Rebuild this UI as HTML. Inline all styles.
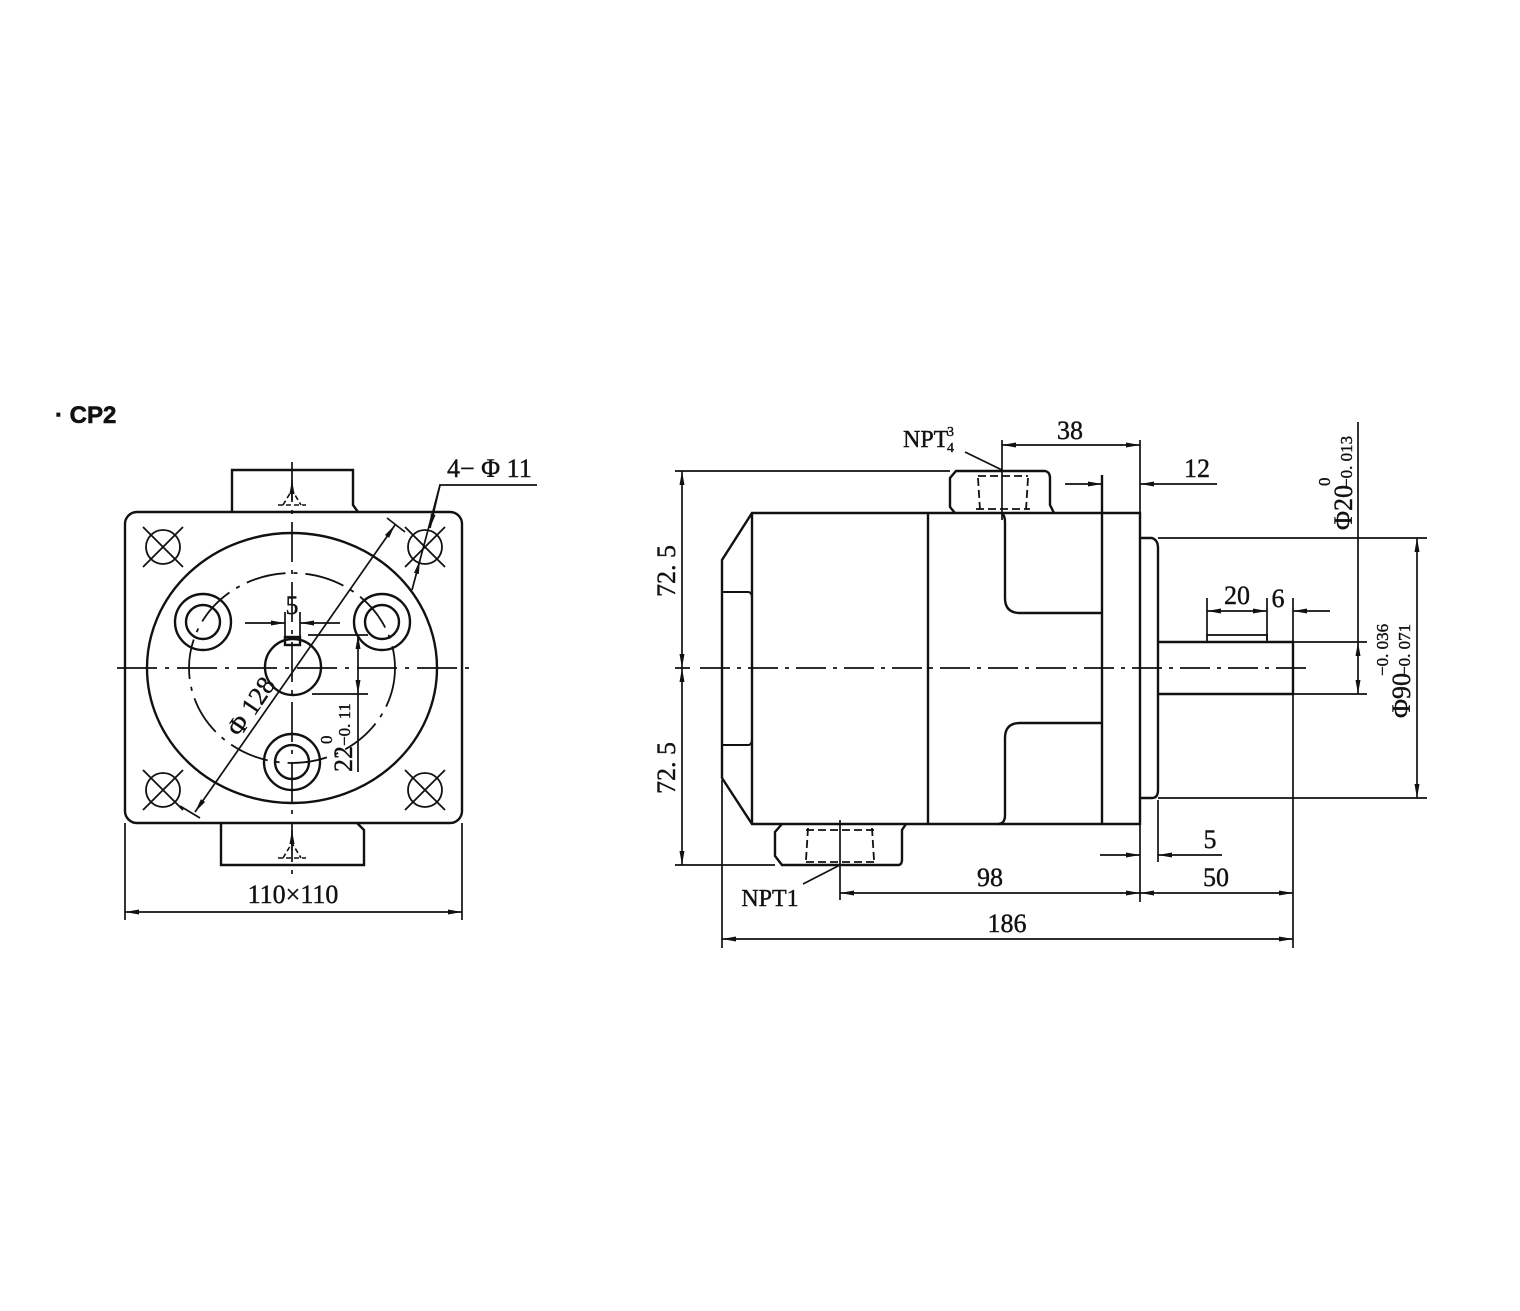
<!DOCTYPE html>
<html><head><meta charset="utf-8"><style>
html,body{margin:0;padding:0;background:#fff;}
svg{display:block}
text{font-family:"Liberation Serif","Noto Serif CJK SC",serif;fill:#111;stroke:#111;stroke-width:0.4px;}
</style></head><body>
<svg width="1520" height="1311" viewBox="0 0 1520 1311" xmlns="http://www.w3.org/2000/svg">
<defs>
<marker id="a" viewBox="0 0 14 6" refX="14" refY="3" markerWidth="14" markerHeight="6" markerUnits="userSpaceOnUse" orient="auto-start-reverse">
<path d="M0,0.5 L14,3 L0,5.5 Z" fill="#111"/></marker>
</defs>
<text x="55" y="423" style="font-family:'Liberation Sans',sans-serif;font-weight:bold;font-size:24px;stroke-width:0.6px">· CP2</text>

<g stroke="#111" stroke-width="2.4" fill="none">
<!-- LEFT VIEW -->
<path d="M232,512 L232,470 L353,470 L353,505 L358,512"/>
<path d="M221,823 L221,865 L364,865 L364,830 L357,823"/>
<rect x="125" y="512" width="337" height="311" rx="12"/>
<ellipse cx="292" cy="668" rx="145" ry="135"/>
<ellipse cx="292" cy="668" rx="103" ry="95" stroke-width="1.8" stroke-dasharray="40,8,4,8"/>
<circle cx="203" cy="622" r="28"/><circle cx="203" cy="622" r="17"/>
<circle cx="382" cy="622" r="28"/><circle cx="382" cy="622" r="17"/>
<circle cx="292" cy="762" r="28"/><circle cx="292" cy="762" r="17"/>
<circle cx="293" cy="667" r="28"/>
<rect x="285" y="637" width="15" height="8"/>
<g stroke-width="1.8">
<circle cx="163" cy="547" r="17"/><circle cx="425" cy="547" r="17"/>
<circle cx="163" cy="790" r="17"/><circle cx="425" cy="790" r="17"/>
<path d="M143,527 L183,567 M143,567 L183,527 M405,527 L445,567 M405,567 L445,527 M143,770 L183,810 M143,810 L183,770 M405,770 L445,810 M405,810 L445,770"/>
</g>
<g stroke-width="1.7" stroke-dasharray="40,8,4,8">
<line x1="117" y1="668" x2="470" y2="668"/>
<line x1="292" y1="462" x2="292" y2="880"/>
</g>
<path d="M283,505 L292,490 L301,505 M278,505 L306,505" stroke-width="1.6" stroke-dasharray="5,3"/>
<path d="M283,858 L292,843 L301,858 M278,858 L306,858" stroke-width="1.6" stroke-dasharray="5,3"/>
<line x1="292" y1="480" x2="292" y2="500" stroke-width="1.6" marker-start="url(#a)"/>
<line x1="292" y1="830" x2="292" y2="850" stroke-width="1.6" marker-start="url(#a)"/>
<line x1="395" y1="525" x2="195" y2="812" stroke-width="1.7" marker-start="url(#a)" marker-end="url(#a)"/>
<line x1="387" y1="518" x2="405" y2="532" stroke-width="1.7"/>
<line x1="180" y1="806" x2="200" y2="818" stroke-width="1.7"/>
<path d="M537,485 L440,485 L412,590" stroke-width="1.7"/>
<line x1="440" y1="485" x2="430" y2="528" stroke-width="1.7" marker-end="url(#a)"/>
<line x1="416" y1="575" x2="420" y2="560" stroke-width="1.7" marker-end="url(#a)"/>
<path d="M285,612 L285,640 M300,612 L300,640" stroke-width="1.7"/>
<line x1="245" y1="623" x2="285" y2="623" stroke-width="1.7" marker-end="url(#a)"/>
<line x1="340" y1="623" x2="300" y2="623" stroke-width="1.7" marker-end="url(#a)"/>
<path d="M308,635 L368,635 M312,694 L368,694" stroke-width="1.7"/>
<line x1="358" y1="772" x2="358" y2="694" stroke-width="1.7"/>
<line x1="358" y1="664" x2="358" y2="635" stroke-width="1.7" marker-end="url(#a)"/>
<line x1="358" y1="664" x2="358" y2="694" stroke-width="1.7" marker-end="url(#a)"/>
<path d="M125,823 L125,920 M462,823 L462,920" stroke-width="1.7"/>
<line x1="125" y1="912" x2="462" y2="912" stroke-width="1.7" marker-start="url(#a)" marker-end="url(#a)"/>

<!-- RIGHT VIEW -->
<path d="M752,513 L1140,513 L1140,824 L752,824 L722,778 L722,560 Z"/>
<line x1="752" y1="513" x2="752" y2="824"/>
<path d="M722,592 L748,592 Q752,592 752,598 M722,745 L748,745 Q752,745 752,739" stroke-width="2"/>
<line x1="928" y1="513" x2="928" y2="824"/>
<path d="M1002,513 Q1005,516 1005,522 L1005,598 Q1005,613 1020,613 L1102,613"/>
<path d="M1102,723 L1020,723 Q1005,723 1005,738 L1005,815 Q1005,824 998,824"/>
<line x1="1102" y1="475" x2="1102" y2="824"/>
<path d="M955,513 L950,507 L950,478 L956,471 L1045,471 Q1050,472 1050,478 L1050,505 L1054,513"/>
<path d="M978,478 L980,510 M1028,478 L1026,510 M978,476 L1028,476 M976,509 L1030,509" stroke-width="1.8" stroke-dasharray="8,4"/>
<path d="M782,824 L775,832 L775,856 L782,865 L899,865 Q902,864 902,860 L902,830 L906,824"/>
<path d="M808,828 L806,860 M872,828 L874,860 M806,830 L874,830 M806,862 L874,862" stroke-width="1.8" stroke-dasharray="8,4"/>
<path d="M1140,538 L1152,538 Q1158,540 1158,548 L1158,790 Q1158,798 1152,798 L1140,798"/>
<path d="M1158,642 L1293,642 L1293,694 L1158,694"/>
<rect x="1207" y="635" width="60" height="7" stroke-width="1.8"/>
<line x1="700" y1="668" x2="1310" y2="668" stroke-width="1.7" stroke-dasharray="30,7,4,7"/>
<line x1="1002" y1="440" x2="1002" y2="520" stroke-width="1.7"/>
<line x1="840" y1="820" x2="840" y2="900" stroke-width="1.7"/>
<path d="M675,471 L950,471 M675,865 L775,865 M675,668 L690,668" stroke-width="1.7"/>
<line x1="682" y1="568" x2="682" y2="471" stroke-width="1.7" marker-end="url(#a)"/>
<line x1="682" y1="568" x2="682" y2="668" stroke-width="1.7" marker-end="url(#a)"/>
<line x1="682" y1="766" x2="682" y2="668" stroke-width="1.7" marker-end="url(#a)"/>
<line x1="682" y1="766" x2="682" y2="865" stroke-width="1.7" marker-end="url(#a)"/>
<line x1="1140" y1="440" x2="1140" y2="513" stroke-width="1.7"/>
<line x1="1002" y1="445" x2="1140" y2="445" stroke-width="1.7" marker-start="url(#a)" marker-end="url(#a)"/>
<line x1="1065" y1="484" x2="1102" y2="484" stroke-width="1.7" marker-end="url(#a)"/>
<line x1="1217" y1="484" x2="1140" y2="484" stroke-width="1.7" marker-end="url(#a)"/>
<line x1="965" y1="452" x2="1002" y2="470" stroke-width="1.7"/>
<line x1="803" y1="884" x2="840" y2="865" stroke-width="1.7"/>
<path d="M1207,598 L1207,635 M1267,598 L1267,640 M1293,598 L1293,645" stroke-width="1.7"/>
<line x1="1237" y1="611" x2="1207" y2="611" stroke-width="1.7" marker-end="url(#a)"/>
<line x1="1237" y1="611" x2="1267" y2="611" stroke-width="1.7" marker-end="url(#a)"/>
<line x1="1330" y1="611" x2="1293" y2="611" stroke-width="1.7" marker-end="url(#a)"/>
<path d="M1293,642 L1367,642 M1293,694 L1367,694" stroke-width="1.7"/>
<line x1="1358" y1="422" x2="1358" y2="642" stroke-width="1.7"/>
<line x1="1358" y1="668" x2="1358" y2="642" stroke-width="1.7" marker-end="url(#a)"/>
<line x1="1358" y1="668" x2="1358" y2="694" stroke-width="1.7" marker-end="url(#a)"/>
<path d="M1158,538 L1427,538 M1158,798 L1427,798" stroke-width="1.7"/>
<line x1="1417" y1="538" x2="1417" y2="798" stroke-width="1.7" marker-start="url(#a)" marker-end="url(#a)"/>
<line x1="722" y1="780" x2="722" y2="948" stroke-width="1.7"/>
<line x1="1140" y1="824" x2="1140" y2="902" stroke-width="1.7"/>
<line x1="1158" y1="800" x2="1158" y2="862" stroke-width="1.7"/>
<line x1="1293" y1="694" x2="1293" y2="948" stroke-width="1.7"/>
<line x1="1100" y1="855" x2="1140" y2="855" stroke-width="1.7" marker-end="url(#a)"/>
<line x1="1222" y1="855" x2="1158" y2="855" stroke-width="1.7" marker-end="url(#a)"/>
<line x1="840" y1="893" x2="1140" y2="893" stroke-width="1.7" marker-start="url(#a)" marker-end="url(#a)"/>
<line x1="1140" y1="893" x2="1293" y2="893" stroke-width="1.7" marker-start="url(#a)" marker-end="url(#a)"/>
<line x1="722" y1="939" x2="1293" y2="939" stroke-width="1.7" marker-start="url(#a)" marker-end="url(#a)"/>
</g>

<g font-size="26">
<text x="447" y="477">4− Φ 11</text>
<text x="292" y="614" text-anchor="middle">5</text>
<text x="293" y="903" text-anchor="middle">110×110</text>
<text transform="translate(240,738) rotate(-56)">Φ 128</text>
<g transform="translate(352,772) rotate(-90)"><text x="0" y="0">22</text><text x="26" y="-2" font-size="17">−0. 11</text><text x="28" y="-20" font-size="17">0</text></g>
<text x="1070" y="439" text-anchor="middle">38</text>
<text x="1197" y="477" text-anchor="middle">12</text>
<text x="1237" y="604" text-anchor="middle">20</text>
<text x="1278" y="607" text-anchor="middle">6</text>
<text x="1210" y="848" text-anchor="middle">5</text>
<text x="990" y="886" text-anchor="middle">98</text>
<text x="1216" y="886" text-anchor="middle">50</text>
<text x="1007" y="932" text-anchor="middle">186</text>
<text x="770" y="906" text-anchor="middle" font-size="24">NPT1</text>
<text x="903" y="447" font-size="24">NPT</text>
<text x="947" y="436" font-size="14">3</text>
<text x="947" y="452" font-size="14">4</text>
<g transform="translate(675,597) rotate(-90)"><text x="0" y="0">72. 5</text></g>
<g transform="translate(675,794) rotate(-90)"><text x="0" y="0">72. 5</text></g>
<g transform="translate(1352,530) rotate(-90)"><text x="0" y="0">Φ20</text><text x="42" y="0" font-size="17">−0. 013</text><text x="44" y="-22" font-size="17">0</text></g>
<g transform="translate(1410,718) rotate(-90)"><text x="0" y="0">Φ90</text><text x="42" y="0" font-size="17">−0. 071</text><text x="42" y="-22" font-size="17">−0. 036</text></g>
</g>
</svg>
</body></html>
